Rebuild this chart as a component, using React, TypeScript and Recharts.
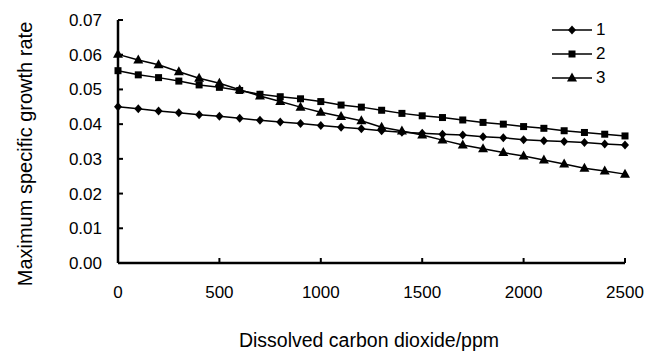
import React from 'react';
import { LineChart, Line, XAxis, YAxis, Legend, Label } from 'recharts';

// dissolved CO2 (ppm)
const co2 = [0, 100, 200, 300, 400, 500, 600, 700, 800, 900, 1000, 1100, 1200, 1300, 1400, 1500, 1600, 1700, 1800, 1900, 2000, 2100, 2200, 2300, 2400, 2500];

const series1 = [0.0450, 0.0444, 0.0438, 0.0433, 0.0427, 0.0423, 0.0417, 0.0411, 0.0406, 0.0402, 0.0396, 0.0391, 0.0387, 0.0381, 0.0377, 0.0374, 0.0371, 0.0369, 0.0364, 0.0361, 0.0355, 0.0352, 0.0350, 0.0347, 0.0343, 0.0340];
const series2 = [0.0554, 0.0542, 0.0534, 0.0524, 0.0513, 0.0506, 0.0497, 0.0486, 0.0479, 0.0473, 0.0465, 0.0455, 0.0449, 0.0440, 0.0431, 0.0424, 0.0419, 0.0412, 0.0405, 0.0400, 0.0393, 0.0388, 0.0381, 0.0376, 0.0371, 0.0366];
const series3 = [0.0601, 0.0585, 0.0571, 0.0551, 0.0532, 0.0518, 0.0499, 0.0481, 0.0465, 0.0449, 0.0434, 0.0422, 0.0410, 0.0391, 0.0380, 0.0369, 0.0354, 0.0340, 0.0329, 0.0318, 0.0308, 0.0297, 0.0285, 0.0273, 0.0265, 0.0256];

const seriesNames = ['1', '2', '3'];
const xTicks = [0, 500, 1000, 1500, 2000, 2500];
const yTicks = [0, 0.01, 0.02, 0.03, 0.04, 0.05, 0.06, 0.07];

const data = co2.map((x, i) => ({ x, s1: series1[i], s2: series2[i], s3: series3[i] }));

const FONT = '"Liberation Sans", Arial, sans-serif';

type Shape = 'diamond' | 'square' | 'triangle';
const shapes: Shape[] = ['diamond', 'square', 'triangle'];

const Marker = ({ shape, cx, cy }: { shape: Shape; cx: number; cy: number }) => {
  if (shape === 'diamond') {
    return <polygon points={`${cx},${cy - 4.5} ${cx + 4},${cy} ${cx},${cy + 4.5} ${cx - 4},${cy}`} fill="#000" />;
  }
  if (shape === 'square') {
    return <rect x={cx - 3.5} y={cy - 3.5} width={7} height={7} fill="#000" />;
  }
  return <polygon points={`${cx},${cy - 5.5} ${cx + 5},${cy + 3.5} ${cx - 5},${cy + 3.5}`} fill="#000" />;
};

const dotFor = (shape: Shape) => (p: any) => (
  <Marker key={`${shape}-${p.index}`} shape={shape} cx={p.cx} cy={p.cy} />
);

const LegendBox = () => (
  <div style={{ fontFamily: FONT, fontSize: 17, color: '#000' }}>
    {seriesNames.map((name, i) => (
      <div key={name} style={{ display: 'flex', alignItems: 'center', height: 24 }}>
        <svg width={42} height={14}>
          <line x1={0} y1={7} x2={40} y2={7} stroke="#000" strokeWidth={1.5} />
          <Marker shape={shapes[i]} cx={20} cy={7} />
        </svg>
        <span style={{ marginLeft: 2, lineHeight: '24px' }}>{name}</span>
      </div>
    ))}
  </div>
);

export default function App() {
  return (
    <div style={{ position: 'absolute', left: 0, top: 0, width: 647, height: 351, background: '#fff' }}>
      <LineChart width={647} height={351} data={data} margin={{ top: 20, right: 22, left: 0, bottom: 0 }}>
        <XAxis
          dataKey="x"
          type="number"
          domain={[0, 2500]}
          ticks={xTicks}
          height={88}
          tickSize={-5}
          tickMargin={28}
          axisLine={{ stroke: '#000', strokeWidth: 2.5 }}
          tickLine={{ stroke: '#000', strokeWidth: 2 }}
          tick={{ fill: '#000', fontSize: 17, fontFamily: FONT }}
        >
          <Label
            content={() => (
              <text x={369} y={347} textAnchor="middle" fill="#000" fontSize={19.5} fontFamily={FONT}>
                Dissolved carbon dioxide/ppm
              </text>
            )}
          />
        </XAxis>
        <YAxis
          type="number"
          domain={[0, 0.07]}
          ticks={yTicks}
          width={118}
          tickSize={-5}
          tickMargin={21}
          tickFormatter={(v: number) => v.toFixed(2)}
          axisLine={{ stroke: '#000', strokeWidth: 2.5 }}
          tickLine={{ stroke: '#000', strokeWidth: 2 }}
          tick={{ fill: '#000', fontSize: 17, fontFamily: FONT }}
        >
          <Label
            content={() => (
              <text
                x={32}
                y={154}
                transform="rotate(-90 32 154)"
                textAnchor="middle"
                fill="#000"
                fontSize={20}
                fontFamily={FONT}
              >
                Maximum specific growth rate
              </text>
            )}
          />
        </YAxis>
        <Legend
          layout="vertical"
          align="center"
          verticalAlign="middle"
          wrapperStyle={{ left: 552, top: 18, width: 70 }}
          content={() => <LegendBox />}
        />
        <Line dataKey="s1" name={seriesNames[0]} stroke="#000" strokeWidth={1.5} dot={dotFor('diamond')} isAnimationActive={false} />
        <Line dataKey="s2" name={seriesNames[1]} stroke="#000" strokeWidth={1.5} dot={dotFor('square')} isAnimationActive={false} />
        <Line dataKey="s3" name={seriesNames[2]} stroke="#000" strokeWidth={1.5} dot={dotFor('triangle')} isAnimationActive={false} />
      </LineChart>
    </div>
  );
}
